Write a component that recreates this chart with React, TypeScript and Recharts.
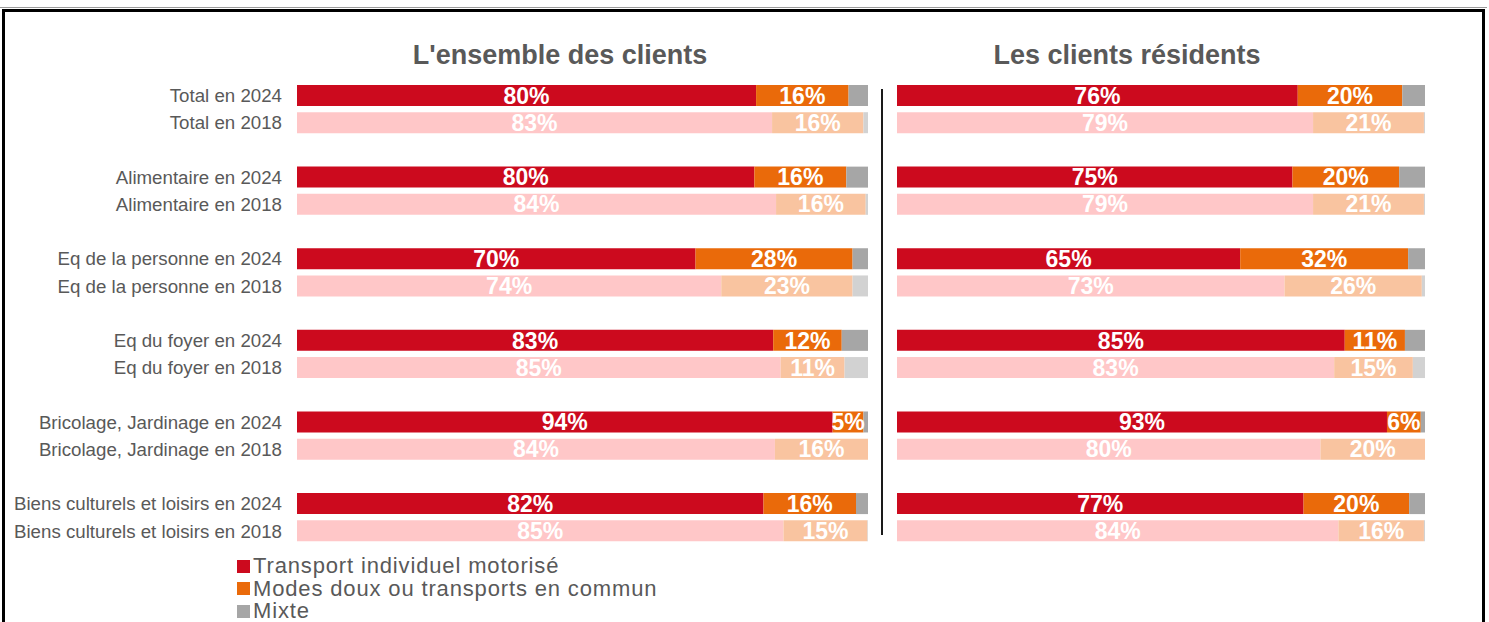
import React from "react";
import { BarChart, Bar, XAxis, YAxis, Cell, LabelList } from "recharts";

const categories = [
  "Total",
  "Alimentaire",
  "Eq de la personne",
  "Eq du foyer",
  "Bricolage, Jardinage",
  "Biens culturels et loisirs",
];
const years = ["2024", "2018"];
const seriesNames = [
  "Transport individuel motorisé",
  "Modes doux ou transports en commun",
  "Mixte",
];
const panelTitles = ["L'ensemble des clients", "Les clients résidents"];

// Ensemble des clients
const allMotor2024 = [80.4, 80.1, 69.8, 83.4, 93.8, 81.7];
const allDoux2024 = [16.2, 16.1, 27.5, 12.0, 5.4, 16.2];
const allMixte2024 = [3.4, 3.8, 2.7, 4.6, 0.8, 2.1];
const allMotor2018 = [83.2, 83.9, 74.3, 84.7, 83.7, 85.2];
const allDoux2018 = [16.0, 15.7, 23.0, 11.2, 16.3, 14.7];
const allMixte2018 = [0.8, 0.4, 2.7, 4.1, 0.0, 0.1];

// Clients résidents
const resMotor2024 = [75.9, 74.9, 65.0, 84.8, 92.8, 77.0];
const resDoux2024 = [19.8, 20.2, 31.8, 11.4, 6.4, 20.0];
const resMixte2024 = [4.3, 4.9, 3.2, 3.8, 0.8, 3.0];
const resMotor2018 = [78.8, 78.8, 73.4, 82.8, 80.2, 83.6];
const resDoux2018 = [21.0, 21.0, 26.0, 14.9, 19.8, 16.2];
const resMixte2018 = [0.2, 0.2, 0.6, 2.3, 0.0, 0.2];

const colors2024 = ["#CC0A1E", "#EA6A0A", "#A6A6A6"];
const colors2018 = ["#FFC7C8", "#F9C4A0", "#D2D2D2"];

const FONT = "'Liberation Sans', Arial, sans-serif";
const TEXT_GRAY = "#595959";

type Row = {
  id: string;
  label: string;
  year: string;
  motor?: number;
  doux?: number;
  mixte?: number;
};

function buildRows(
  m24: number[], d24: number[], x24: number[],
  m18: number[], d18: number[], x18: number[]
): Row[] {
  const rows: Row[] = [];
  categories.forEach((c, i) => {
    rows.push({ id: `r${i}a`, label: `${c} en ${years[0]}`, year: years[0], motor: m24[i], doux: d24[i], mixte: x24[i] });
    rows.push({ id: `r${i}b`, label: `${c} en ${years[1]}`, year: years[1], motor: m18[i], doux: d18[i], mixte: x18[i] });
    if (i < categories.length - 1) rows.push({ id: `g${i}`, label: "", year: "" });
  });
  return rows;
}

const allRows = buildRows(allMotor2024, allDoux2024, allMixte2024, allMotor2018, allDoux2018, allMixte2018);
const resRows = buildRows(resMotor2024, resDoux2024, resMixte2024, resMotor2018, resDoux2018, resMixte2018);

const labelMap: Record<string, string> = {};
allRows.forEach((r) => (labelMap[r.id] = r.label));

const keys = ["motor", "doux", "mixte"];

const fmt = (v: any) => (v == null || v === "" ? "" : `${Math.round(Number(v))}%`);

function Panel({ rows, width, showAxis, leftMargin }: { rows: Row[]; width: number; showAxis: boolean; leftMargin: number }) {
  return (
    <BarChart
      width={width}
      height={560}
      data={rows}
      layout="vertical"
      margin={{ top: 82, right: 0, bottom: 15.5, left: 0 }}
      barSize={21}
    >
      <XAxis type="number" domain={[0, 100]} hide />
      <YAxis
        type="category"
        dataKey="id"
        hide={!showAxis}
        width={leftMargin}
        interval={0}
        axisLine={false}
        tickLine={false}
        tickSize={0}
        tickMargin={15}
        tickFormatter={(id: string) => labelMap[id] || ""}
        tick={{ fill: TEXT_GRAY, fontSize: 18.7, fontFamily: FONT }}
      />
      {keys.map((k, ki) => (
        <Bar key={k} dataKey={k} stackId="a" isAnimationActive={false}>
          {rows.map((r) => (
            <Cell key={r.id} fill={r.year === years[0] ? colors2024[ki] : colors2018[ki]} />
          ))}
          {ki < 2 && (
            <LabelList
              dataKey={k}
              position="center"
              formatter={fmt}
              fill="#FFFFFF"
              style={{ fontSize: 23, fontWeight: "bold", fontFamily: FONT, fill: "#FFFFFF" }}
            />
          )}
        </Bar>
      ))}
    </BarChart>
  );
}

export default function App() {
  return (
    <div
      style={{
        position: "absolute",
        left: 0,
        top: 0,
        width: 1489,
        height: 622,
        overflow: "hidden",
        background: "#fff",
        fontFamily: FONT,
      }}
    >
      <div style={{ position: "absolute", left: 0, top: 7, width: 1487, height: 1, background: "#9a9a9a" }} />
      <div
        style={{
          position: "absolute",
          left: 2,
          top: 9,
          width: 1477,
          height: 700,
          border: "3px solid #000",
        }}
      />
      <div
        style={{
          position: "absolute",
          left: 260,
          width: 600,
          top: 38,
          textAlign: "center",
          fontSize: 27,
          fontWeight: "bold",
          color: TEXT_GRAY,
          lineHeight: "34px",
        }}
      >
        {panelTitles[0]}
      </div>
      <div
        style={{
          position: "absolute",
          left: 827,
          width: 600,
          top: 38,
          textAlign: "center",
          fontSize: 27,
          fontWeight: "bold",
          color: TEXT_GRAY,
          lineHeight: "34px",
        }}
      >
        {panelTitles[1]}
      </div>
      <div style={{ position: "absolute", left: 0, top: 0 }}>
        <Panel rows={allRows} width={868} showAxis={true} leftMargin={297} />
      </div>
      <div style={{ position: "absolute", left: 897, top: 0 }}>
        <Panel rows={resRows} width={528} showAxis={false} leftMargin={0} />
      </div>
      <div style={{ position: "absolute", left: 881, top: 89, width: 2, height: 446, background: "#1a1a1a" }} />
      <div style={{ position: "absolute", left: 237, top: 555 }}>
        {seriesNames.map((n, i) => (
          <div
            key={n}
            style={{ display: "flex", alignItems: "center", height: 22.5, fontSize: 22, lineHeight: "22px", letterSpacing: 0.85, color: TEXT_GRAY, whiteSpace: "nowrap" }}
          >
            <span style={{ display: "inline-block", width: 13, height: 13, background: colors2024[i], marginRight: 3 }} />
            <span style={{ lineHeight: "22px" }}>{n}</span>
          </div>
        ))}
      </div>
    </div>
  );
}
